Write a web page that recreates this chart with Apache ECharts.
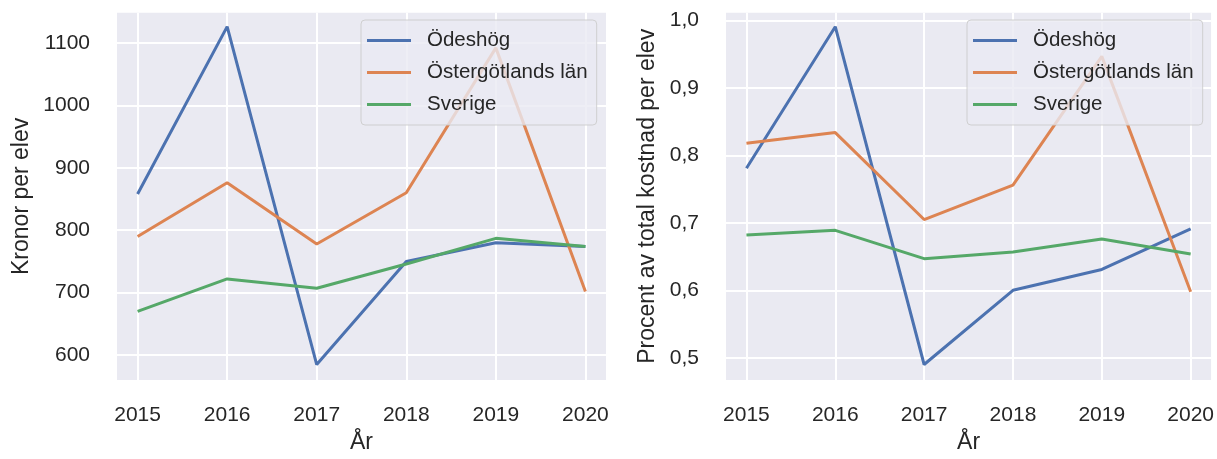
<!DOCTYPE html>
<html>
<head>
<meta charset="utf-8">
<script src="https://cdn.jsdelivr.net/npm/echarts@6/dist/echarts.min.js"></script>
<style>
html,body{margin:0;padding:0;background:#ffffff;}
#chart{width:1217px;height:459px;}
</style>
</head>
<body>
<div id="chart"></div>
<script>
// ---- data ----
var years = [2015, 2016, 2017, 2018, 2019, 2020];
var seriesNames = ['Ödeshög', 'Östergötlands län', 'Sverige'];
// Left: Kronor per elev
var kronorOdeshog = [858, 1126, 585, 750, 780, 774];
var kronorOstergotland = [790, 876, 778, 860, 1092, 702];
var kronorSverige = [670, 722, 707, 746, 787, 774];
// Right: Procent av total kostnad per elev
var procentOdeshog = [0.781, 0.991, 0.490, 0.600, 0.631, 0.691];
var procentOstergotland = [0.818, 0.834, 0.705, 0.756, 0.947, 0.598];
var procentSverige = [0.682, 0.689, 0.647, 0.657, 0.676, 0.654];
// tick labels
var leftTicks = [600, 700, 800, 900, 1000, 1100];
var rightTicks = [0.5, 0.6, 0.7, 0.8, 0.9, 1.0];
var xTicks = years;

var colors = ['#4c72b0', '#dd8452', '#55a868'];
var FONT = "'Liberation Sans', Arial, sans-serif";
var TXT = '#262626';

function pairs(vals) { return years.map(function (y, i) { return [y, vals[i]]; }); }

function xAxisCfg(gridIndex) {
  return {
    type: 'value', gridIndex: gridIndex, min: 2014.77, max: 2020.23,
    name: 'År', nameLocation: 'middle', nameGap: 51,
    nameTextStyle: { color: TXT, fontSize: 23, fontFamily: FONT },
    axisLine: { show: false }, axisTick: { show: false, customValues: xTicks },
    axisLabel: { customValues: xTicks, color: TXT, fontSize: 21, fontFamily: FONT, margin: 25,
      formatter: function (v) { return String(v); } },
    splitLine: { show: true, lineStyle: { color: '#ffffff', width: 2 } }
  };
}

function yAxisCfg(gridIndex, min, max, ticks, name, gap, fmt) {
  return {
    type: 'value', gridIndex: gridIndex, min: min, max: max,
    name: name, nameLocation: 'middle', nameGap: gap, nameRotate: 90,
    nameTextStyle: { color: TXT, fontSize: 23, fontFamily: FONT },
    axisLine: { show: false }, axisTick: { show: false, customValues: ticks },
    axisLabel: { customValues: ticks, color: TXT, fontSize: 21, fontFamily: FONT, margin: 27, formatter: fmt },
    splitLine: { show: true, lineStyle: { color: '#ffffff', width: 2 } }
  };
}

function lineSeries(name, idx, axisIndex, vals) {
  return {
    name: name, type: 'line', xAxisIndex: axisIndex, yAxisIndex: axisIndex,
    data: pairs(vals), showSymbol: false, symbol: 'none', animation: false,
    lineStyle: { color: colors[idx], width: 3 }, itemStyle: { color: colors[idx] }
  };
}

function legendCfg(left) {
  return {
    orient: 'vertical', left: left, top: 20,
    data: seriesNames,
    icon: 'rect', itemWidth: 44, itemHeight: 3, itemGap: 11,
    padding: [10, 9, 10, 6],
    backgroundColor: 'rgba(234,234,242,0.8)',
    borderColor: 'rgba(204,204,204,0.9)', borderWidth: 1, borderRadius: 4,
    textStyle: { color: TXT, fontSize: 20.5, fontFamily: FONT, padding: [0, 0, 0, 11] },
    selectedMode: false
  };
}

var chart = echarts.init(document.getElementById('chart'), null, { renderer: 'canvas' });
chart.setOption({
  animation: false,
  backgroundColor: '#ffffff',
  grid: [
    { left: 117, top: 12.7, width: 489, height: 369, show: true, backgroundColor: '#eaeaf2', borderWidth: 0 },
    { left: 726, top: 12.7, width: 487, height: 369, show: true, backgroundColor: '#eaeaf2', borderWidth: 0 }
  ],
  xAxis: [xAxisCfg(0), xAxisCfg(1)],
  yAxis: [
    yAxisCfg(0, 560.2, 1148.3, leftTicks, 'Kronor per elev', 84, function (v) { return String(v); }),
    yAxisCfg(1, 0.467, 1.0118, rightTicks, 'Procent av total kostnad per elev', 67,
      function (v) { return v.toFixed(1).replace('.', ','); })
  ],
  legend: [legendCfg(361), legendCfg(967)],
  series: [
    lineSeries(seriesNames[0], 0, 0, kronorOdeshog),
    lineSeries(seriesNames[1], 1, 0, kronorOstergotland),
    lineSeries(seriesNames[2], 2, 0, kronorSverige),
    lineSeries(seriesNames[0], 0, 1, procentOdeshog),
    lineSeries(seriesNames[1], 1, 1, procentOstergotland),
    lineSeries(seriesNames[2], 2, 1, procentSverige)
  ]
});
</script>
</body>
</html>
